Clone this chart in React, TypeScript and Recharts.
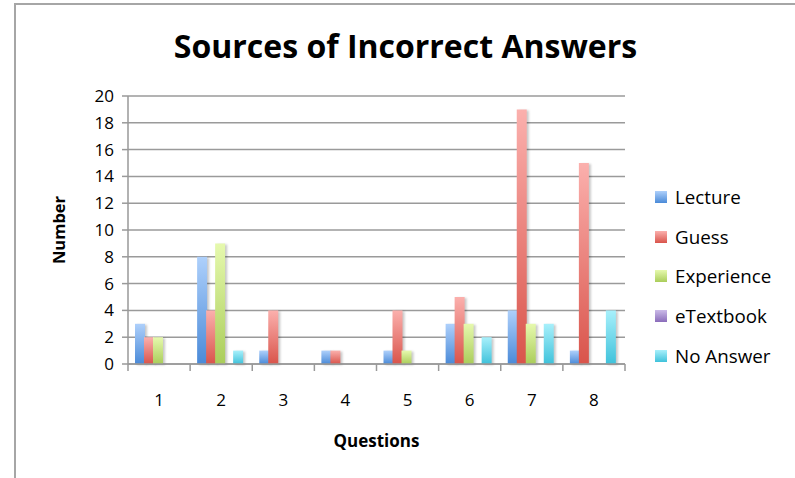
import { BarChart, Bar, XAxis, YAxis, CartesianGrid, Label } from "recharts";

const questions = ["1", "2", "3", "4", "5", "6", "7", "8"];
const lecture = [3, 8, 1, 1, 1, 3, 4, 1];
const guess = [2, 4, 4, 1, 4, 5, 19, 15];
const experience = [2, 9, 0, 0, 1, 3, 3, 0];
const eTextbook = [0, 0, 0, 0, 0, 0, 0, 0];
const noAnswer = [0, 1, 0, 0, 0, 2, 3, 4];
const yTicks = [0, 2, 4, 6, 8, 10, 12, 14, 16, 18, 20];

const series = [
  { key: "Lecture", top: "#aed0fb", bottom: "#4a8ad8" },
  { key: "Guess", top: "#fbb0ad", bottom: "#d9544b" },
  { key: "Experience", top: "#e6f9ae", bottom: "#aacd5a" },
  { key: "eTextbook", top: "#cbbbe8", bottom: "#8a6cba" },
  { key: "No Answer", top: "#a8f0fb", bottom: "#3fc2db" },
];

const data = questions.map((q, i) => ({
  q,
  Lecture: lecture[i],
  Guess: guess[i],
  Experience: experience[i],
  eTextbook: eTextbook[i],
  "No Answer": noAnswer[i],
}));

const font = "'Open Sans', sans-serif";
const band = 497 / questions.length;

// ticks sit on the category boundaries, like the original
function QuestionTick(props: any) {
  const { x, y, payload, index } = props;
  return (
    <g>
      <line x1={x - band / 2} y1={y - 8} x2={x - band / 2} y2={y - 1} stroke="#999" strokeWidth={1.5} />
      {index === questions.length - 1 && (
        <line x1={x + band / 2} y1={y - 8} x2={x + band / 2} y2={y - 1} stroke="#999" strokeWidth={1.5} />
      )}
      <text x={x} y={y + 34} textAnchor="middle" fontSize={17} fill="#000" fontFamily={font}>
        {payload.value}
      </text>
    </g>
  );
}

function LegendBox() {
  return (
    <div style={{ position: "absolute", left: 655, top: 177, fontFamily: font, fontSize: 18.8, color: "#000" }}>
      {series.map((s) => (
        <div key={s.key} style={{ display: "flex", alignItems: "center", height: 39.7 }}>
          <span
            style={{
              display: "inline-block",
              width: 12,
              height: 12,
              marginRight: 8,
              background: `linear-gradient(${s.top}, ${s.bottom})`,
            }}
          />
          {s.key}
        </div>
      ))}
    </div>
  );
}

export default function App() {
  return (
    <div style={{ position: "absolute", left: 0, top: 0, width: 795, height: 478, background: "#fff" }}>
      <div
        style={{
          position: "absolute",
          left: 14,
          top: 3,
          width: 781,
          height: 475,
          borderTop: "2px solid #a6a6a6",
          borderLeft: "2px solid #a6a6a6",
        }}
      />
      <div
        style={{
          position: "absolute",
          left: 0,
          width: 795,
          top: 24,
          textAlign: "center",
          paddingLeft: 16,
          boxSizing: "border-box",
          fontFamily: font,
          fontWeight: 700,
          fontSize: 32,
          color: "#000",
        }}
      >
        Sources of Incorrect Answers
      </div>
      <BarChart
        width={795}
        height={478}
        data={data}
        margin={{ top: 96, right: 170, bottom: 74, left: 60 }}
        barCategoryGap={7}
        barGap={-1}
        style={{ position: "absolute", left: 0, top: 0 }}
      >
        <defs>
          {series.map((s, i) => (
            <linearGradient key={s.key} id={`g${i}`} x1="0" y1="0" x2="0" y2="1">
              <stop offset="0%" stopColor={s.top} />
              <stop offset="100%" stopColor={s.bottom} />
            </linearGradient>
          ))}
        </defs>
        <CartesianGrid vertical={false} stroke="#9a9a9a" strokeWidth={1.5} />
        <XAxis
          dataKey="q"
          height={40}
          axisLine={{ stroke: "#999", strokeWidth: 1.5 }}
          tickLine={false}
          tick={<QuestionTick />}
          interval={0}
        >
          <Label
            value="Questions"
            position="insideBottom"
            offset={-43}
            style={{ fontFamily: font, fontWeight: 700, fontSize: 17, fill: "#000" }}
          />
        </XAxis>
        <YAxis
          width={68}
          domain={[0, 20]}
          ticks={yTicks}
          interval={0}
          axisLine={{ stroke: "#999", strokeWidth: 1.5 }}
          tickLine={{ stroke: "#999", strokeWidth: 1.5 }}
          tickSize={6}
          tickMargin={8}
          tick={{ fontFamily: font, fontSize: 17, fill: "#000" }}
        >
          <Label
            value="Number"
            angle={-90}
            position="insideLeft"
            offset={-1}
            style={{ fontFamily: font, fontWeight: 700, fontSize: 16.5, fill: "#000", textAnchor: "middle" }}
          />
        </YAxis>
        {series.map((s, i) => (
          <Bar
            key={s.key}
            dataKey={s.key}
            fill={`url(#g${i})`}
            isAnimationActive={false}
            style={{ filter: "drop-shadow(2px 1px 1px rgba(0,0,0,0.22))" }}
          />
        ))}
      </BarChart>
      <LegendBox />
    </div>
  );
}
